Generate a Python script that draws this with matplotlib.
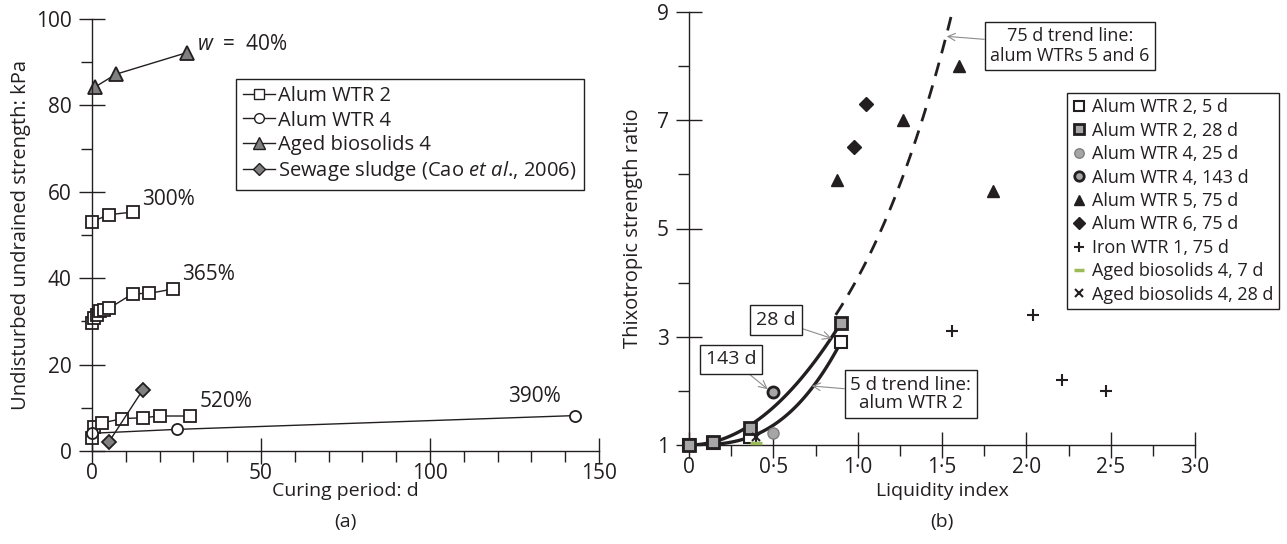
import numpy as np
import matplotlib
matplotlib.use("Agg")
import matplotlib.pyplot as plt
from matplotlib.ticker import MultipleLocator, FixedLocator, FuncFormatter

plt.rcParams['font.family'] = ['Open Sans', 'DejaVu Sans']
plt.rcParams['mathtext.fontset'] = 'custom'
plt.rcParams['mathtext.rm'] = 'Open Sans'
plt.rcParams['mathtext.it'] = 'Open Sans:italic'
plt.rcParams['text.color'] = '#231f20'
plt.rcParams['axes.labelcolor'] = '#231f20'
plt.rcParams['xtick.color'] = '#231f20'
plt.rcParams['ytick.color'] = '#231f20'
plt.rcParams['font.size'] = 13

INK = '#231f20'
GREY = '#808080'
LIGHT = '#a6a6a6'

# (a) undisturbed undrained strength vs curing period
days_wtr2_300 = [0, 5, 12]
su_wtr2_300 = [53.1, 54.7, 55.3]
days_wtr2_365 = [0, 0.7, 1.5, 2.5, 3.5, 5, 12, 17, 24]
su_wtr2_365 = [29.6, 30.7, 31.5, 32.3, 32.6, 33.0, 36.4, 36.5, 37.5]
days_wtr2_520 = [0, 0.5, 3, 9, 15, 20, 29]
su_wtr2_520 = [2.9, 5.6, 6.5, 7.5, 7.7, 8.1, 8.1]
days_wtr4 = [0, 25, 143]
su_wtr4 = [4.1, 5.0, 8.2]
days_bio4 = [1, 7, 28]
su_bio4 = [84.3, 87.2, 92.2]
days_sludge = [5, 15]
su_sludge = [2.1, 14.1]

# (b) thixotropic strength ratio vs liquidity index
li_wtr2_5d = [0, 0.14, 0.36, 0.9]
ratio_wtr2_5d = [1.0, 1.03, 1.15, 2.9]
li_wtr2_28d = [0, 0.14, 0.36, 0.9]
ratio_wtr2_28d = [1.0, 1.05, 1.31, 3.26]
li_wtr4_25d = [0.5]
ratio_wtr4_25d = [1.22]
li_wtr4_143d = [0.5]
ratio_wtr4_143d = [1.97]
li_wtr5_75d = [0.88, 1.27, 1.60, 1.80]
ratio_wtr5_75d = [5.9, 7.0, 8.0, 5.7]
li_wtr6_75d = [0.98, 1.05]
ratio_wtr6_75d = [6.5, 7.3]
li_iron1_75d = [1.56, 2.04, 2.21, 2.47]
ratio_iron1_75d = [3.1, 3.4, 2.2, 2.0]
li_bio4_7d = [0.40]
ratio_bio4_7d = [1.04]
li_bio4_28d = [0.40]
ratio_bio4_28d = [1.15]

# trend lines: 1 + a*LI^n for alum WTR 2, exp(k*LI) for the 75 d data
trend_5d = (2.55, 2.8)
trend_28d = (2.78, 2.0)
trend_75d_k = 1.408


def style_axis(ax):
    for side in ('top', 'right'):
        ax.spines[side].set_visible(False)
    for side in ('left', 'bottom'):
        ax.spines[side].set_color(INK)
        ax.spines[side].set_linewidth(1.0)
    ax.tick_params(which='major', direction='inout', length=19, width=1.0,
                   labelsize=15)
    ax.tick_params(axis='x', which='major', pad=-1)
    ax.tick_params(axis='y', which='major', pad=5)
    ax.tick_params(which='minor', direction='out', length=8, width=1.0)


fig = plt.figure(figsize=(12.87, 5.44), dpi=100)
ax1 = fig.add_axes([92 / 1287, 1 - 451 / 544, 507 / 1287, 432 / 544])
ax2 = fig.add_axes([689 / 1287, 1 - 445 / 544, 506 / 1287, 433 / 544])

# ---- panel (a)
line_kw = dict(color=INK, lw=1.0, mew=1.3, mec=INK, clip_on=False)
sq = dict(marker='s', ms=8, mfc='white')
ci = dict(marker='o', ms=8, mfc='white')
tri = dict(marker='^', ms=10, mfc=GREY)
dia = dict(marker='D', ms=7, mfc=GREY)
ax1.plot(days_wtr2_300, su_wtr2_300, **sq, **line_kw)
ax1.plot(days_wtr2_365, su_wtr2_365, **sq, **line_kw)
ax1.plot(days_wtr2_520, su_wtr2_520, **sq, **line_kw)
ax1.plot(days_wtr4, su_wtr4, **ci, **line_kw)
ax1.plot(days_bio4, su_bio4, **tri, **line_kw)
ax1.plot(days_sludge, su_sludge, **dia, **line_kw)

leg_kw = dict(color=INK, lw=1.0, mew=1.0, mec=INK)
h_a = [
    ax1.plot([], [], marker='s', ms=7, mfc='white', **leg_kw)[0],
    ax1.plot([], [], marker='o', ms=7, mfc='white', **leg_kw)[0],
    ax1.plot([], [], marker='^', ms=8, mfc=GREY, **leg_kw)[0],
    ax1.plot([], [], marker='D', ms=6, mfc=GREY, **leg_kw)[0],
]
labels_a = ['Alum WTR 2', 'Alum WTR 4', 'Aged biosolids 4',
            'Sewage sludge (Cao $et\\ al$., 2006)']
leg_a = ax1.legend(h_a, labels_a, loc='upper left', bbox_to_anchor=(0.284, 0.861),
                   borderaxespad=0, handlelength=1.6, handletextpad=0.15,
                   labelspacing=0.22, fancybox=False, framealpha=1,
                   edgecolor=INK, fontsize=14.5, borderpad=0.35)
leg_a.get_frame().set_linewidth(1.0)

ax1.text(31.2, 94.2, '$w$  =  40%', va='center', ha='left', fontsize=15)
ax1.text(14.9, 58.2, '300%', va='center', ha='left', fontsize=15)
ax1.text(26.5, 40.8, '365%', va='center', ha='left', fontsize=15)
ax1.text(31.8, 11.4, '520%', va='center', ha='left', fontsize=15)
ax1.text(131, 12.6, '390%', va='center', ha='center', fontsize=15)

ax1.set_xlim(0, 150)
ax1.set_ylim(0, 100)
ax1.xaxis.set_major_locator(MultipleLocator(50))
ax1.xaxis.set_minor_locator(MultipleLocator(10))
ax1.yaxis.set_major_locator(MultipleLocator(20))
ax1.yaxis.set_minor_locator(MultipleLocator(10))
style_axis(ax1)
ax1.set_xlabel('Curing period: d', fontsize=14)
ax1.set_ylabel('Undisturbed undrained strength: kPa', fontsize=14.5)
ax1.xaxis.set_label_coords(0.5, (451 - 482) / 432)
ax1.yaxis.set_label_coords((31 - 92) / 507, 0.5)

# ---- panel (b)
x5 = np.linspace(0, li_wtr2_5d[-1], 100)
ax2.plot(x5, 1 + trend_5d[0] * x5 ** trend_5d[1], color=INK, lw=2.4, zorder=2)
x28 = np.linspace(0, li_wtr2_28d[-1], 100)
ax2.plot(x28, 1 + trend_28d[0] * x28 ** trend_28d[1], color=INK, lw=2.4, zorder=2)
x75 = np.linspace(0.87, 1.62, 100)
ax2.plot(x75, np.exp(trend_75d_k * x75), color=INK, lw=2.0, ls=(0, (5, 3.5)), zorder=2)

pt = dict(ls='none', zorder=3, clip_on=False)
ax2.plot(li_wtr2_5d, ratio_wtr2_5d, marker='s', ms=8.5, mfc='white', mec=INK, mew=1.5,
         label='Alum WTR 2, 5 d', **pt)
ax2.plot(li_wtr2_28d, ratio_wtr2_28d, marker='s', ms=8.5, mfc=LIGHT, mec=INK, mew=2.0,
         label='Alum WTR 2, 28 d', **pt)
ax2.plot(li_wtr4_25d, ratio_wtr4_25d, marker='o', ms=8, mfc=LIGHT, mec=GREY, mew=1.0,
         label='Alum WTR 4, 25 d', **pt)
ax2.plot(li_wtr4_143d, ratio_wtr4_143d, marker='o', ms=8, mfc=LIGHT, mec=INK, mew=2.0,
         label='Alum WTR 4, 143 d', **pt)
ax2.plot(li_wtr5_75d, ratio_wtr5_75d, marker='^', ms=9, mfc=INK, mec=INK,
         label='Alum WTR 5, 75 d', **pt)
ax2.plot(li_wtr6_75d, ratio_wtr6_75d, marker='D', ms=7, mfc=INK, mec=INK,
         label='Alum WTR 6, 75 d', **pt)
ax2.plot(li_iron1_75d, ratio_iron1_75d, marker='+', ms=8, mec=INK, mew=1.5,
         label='Iron WTR 1, 75 d', **pt)
ax2.plot(li_bio4_7d, ratio_bio4_7d, marker='_', ms=8, mec='#9bbb59', mew=2.5,
         label='Aged biosolids 4, 7 d', **pt)
ax2.plot(li_bio4_28d, ratio_bio4_28d, marker='x', ms=6, mec=INK, mew=1.5,
         label='Aged biosolids 4, 28 d', **pt)

leg_b = ax2.legend(loc='upper left', bbox_to_anchor=(0.747, 0.813), borderaxespad=0,
                   handlelength=0.7, handletextpad=0.4, labelspacing=0.3,
                   fancybox=False, framealpha=1, edgecolor=INK, fontsize=13,
                   borderpad=0.3, markerscale=0.85)
leg_b.get_frame().set_linewidth(1.0)

box = dict(boxstyle='square,pad=0.3', fc='white', ec=INK, lw=1.0)
arrow = dict(arrowstyle='->', color='#8c8c8c', lw=0.8, shrinkA=0, shrinkB=0)
ax2.annotate('75 d trend line:\nalum WTRs 5 and 6', xy=(1.528, 8.55), xytext=(2.258, 8.37),
             ha='center', va='center', fontsize=13, linespacing=1.1, bbox=box,
             arrowprops=arrow, zorder=5)
ax2.annotate('28 d', xy=(0.846, 2.97), xytext=(0.516, 3.31), ha='center', va='center',
             fontsize=14, bbox=box, arrowprops=arrow, zorder=5)
ax2.annotate('143 d', xy=(0.467, 2.03), xytext=(0.251, 2.58), ha='center', va='center',
             fontsize=14, bbox=box, arrowprops=arrow, zorder=5)
ax2.annotate('5 d trend line:\nalum WTR 2', xy=(0.727, 2.09), xytext=(1.315, 1.94),
             ha='center', va='center', fontsize=13.5, linespacing=1.05, bbox=box,
             arrowprops=arrow, zorder=5)

ax2.set_xlim(0, 3)
ax2.set_ylim(1, 9)
ax2.xaxis.set_major_locator(MultipleLocator(0.5))
ax2.xaxis.set_minor_locator(MultipleLocator(0.25))
ax2.yaxis.set_major_locator(FixedLocator([1, 3, 5, 7, 9]))
ax2.yaxis.set_minor_locator(FixedLocator([2, 4, 6, 8]))
ax2.xaxis.set_major_formatter(FuncFormatter(
    lambda v, _: '0' if v == 0 else f'{v:.1f}'.replace('.', '\u00b7')))
style_axis(ax2)
ax2.set_xlabel('Liquidity index', fontsize=14)
ax2.set_ylabel('Thixotropic strength ratio', fontsize=14.5)
ax2.xaxis.set_label_coords(0.5, (445 - 482) / 433)
ax2.yaxis.set_label_coords((643 - 689) / 506, 0.5)

fig.text(345 / 1287, 1 - 522 / 544, '(a)', ha='center', va='center', fontsize=14)
fig.text(942 / 1287, 1 - 522 / 544, '(b)', ha='center', va='center', fontsize=14)

fig.savefig('out.png', dpi=100, facecolor='white')
